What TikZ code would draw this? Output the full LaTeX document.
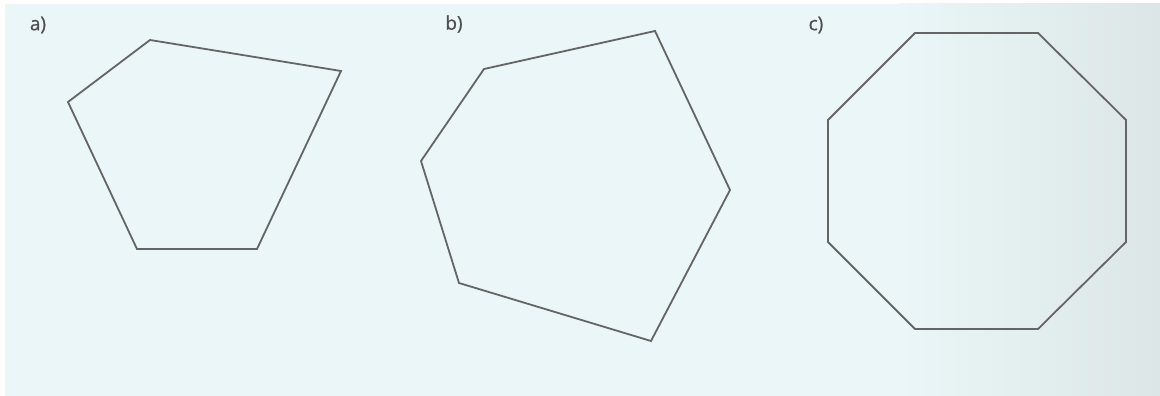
\documentclass[tikz,border=0pt]{standalone}
\usepackage{fontspec}
\setmainfont{Open Sans}
\newfontfamily\labelfont[FakeBold=0.8]{Open Sans}
\definecolor{panel}{HTML}{EAF6F7}
\definecolor{panelend}{HTML}{DCE6E6}
\definecolor{edge}{HTML}{656565}
\definecolor{labeltext}{HTML}{505050}
\tikzset{
  shapeline/.style={draw=edge, line width=1.8pt, line join=miter},
  partlabel/.style={text=labeltext, font=\labelfont\fontsize{19}{22}\selectfont, inner sep=0pt}
}
\begin{document}
\begin{tikzpicture}[x=1pt, y=-1pt]
        \useasboundingbox (0,0) rectangle (1160,396);
        % background panel
        \fill[panel] (5,4) rectangle (902,396);
        \shade[left color=panel, right color=panelend] (900,4) rectangle (1160,396);

        % labels
        \node[partlabel] (la) at (38,25) {a)};
        \node[partlabel] (lb) at (454,24) {b)};
        \node[partlabel] (lc) at (816,25) {c)};

        % a) pentagon
        \draw[shapeline] (150,40) -- (341,71) -- (257,249) -- (137,249) -- (68,102) -- cycle;

        % b) hexagon
        \draw[shapeline] (484,69) -- (655,31) -- (730,190) -- (651,341) -- (459,283) -- (421,161) -- cycle;

        % c) octagon
        \draw[shapeline] (915,33) -- (1038,33) -- (1126,120) -- (1126,242) -- (1038,329)
                -- (915,329) -- (828,242) -- (828,120) -- cycle;
    \end{tikzpicture}
\end{document}
